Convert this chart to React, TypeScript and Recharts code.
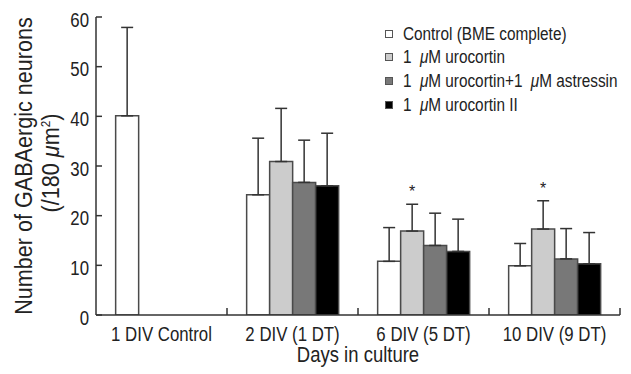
import { Bar, BarChart, ErrorBar, Label, LabelList, Legend, XAxis, YAxis } from "recharts"

const CATEGORIES = ["1 DIV Control", "2 DIV (1 DT)", "6 DIV (5 DT)", "10 DIV (9 DT)"]
const CONTROL = [40.1, 24.2, 10.8, 9.9]
const CONTROL_SD = [17.8, 11.4, 6.8, 4.5]
const UROCORTIN = [null, 30.9, 16.9, 17.3]
const UROCORTIN_SD = [null, 10.7, 5.4, 5.7]
const ASTRESSIN = [null, 26.7, 14.0, 11.3]
const ASTRESSIN_SD = [null, 8.5, 6.5, 6.1]
const UROCORTIN2 = [null, 26.0, 12.8, 10.3]
const UROCORTIN2_SD = [null, 10.6, 6.5, 6.3]
const SIGNIFICANT = [false, false, true, true]
const Y_TICKS = [0, 10, 20, 30, 40, 50, 60]

const SERIES = [
  { key: "control", name: "Control (BME complete)", fill: "#ffffff" },
  { key: "uro", name: "1 μM urocortin", fill: "#cccccc" },
  { key: "ast", name: "1 μM urocortin+1 μM astressin", fill: "#787878" },
  { key: "uro2", name: "1 μM urocortin II", fill: "#000000" },
]

const err = (v: number | null) => (v == null ? null : [0, v])

const data = CATEGORIES.map((name, i) => ({
  name,
  control: CONTROL[i],
  controlErr: err(CONTROL_SD[i]),
  uro: UROCORTIN[i],
  uroErr: err(UROCORTIN_SD[i]),
  ast: ASTRESSIN[i],
  astErr: err(ASTRESSIN_SD[i]),
  uro2: UROCORTIN2[i],
  uro2Err: err(UROCORTIN2_SD[i]),
  // ratio of SD to mean, only where the difference is significant
  sig: SIGNIFICANT[i] && UROCORTIN[i] ? (UROCORTIN_SD[i] as number) / (UROCORTIN[i] as number) : null,
}))

const W = 631
const H = 374
const TOP = 17
const RIGHT = 11
const YAXIS_W = 96
const XAXIS_H = 59
const PLOT_BOTTOM = H - XAXIS_H
const BAND_W = (W - YAXIS_W - RIGHT) / CATEGORIES.length
const AXIS = "#333"
const INK = "#222"
const FONT = "'Liberation Sans', Arial, sans-serif"
const NARROW = 0.82

function withMu(text: string) {
  return text.split("μ").map((part, i) =>
    i === 0 ? part : (
      <span key={i}>
        <i style={{ marginLeft: 5 }}>μ</i>
        {part}
      </span>
    )
  )
}

function YTick({ y, payload }: any) {
  return (
    <g>
      <line x1={YAXIS_W} x2={YAXIS_W + 6} y1={y} y2={y} stroke={AXIS} strokeWidth={1.5} />
      <g transform={`translate(${YAXIS_W - 7}, ${y + 9.5}) scale(${NARROW}, 1)`}>
        <text textAnchor="end" fontSize={20.5} fontFamily={FONT} fill={INK}>
          {payload.value}
        </text>
      </g>
    </g>
  )
}

function XTick({ x, payload }: any) {
  const edge = x + BAND_W / 2
  return (
    <g>
      <line x1={edge} x2={edge} y1={PLOT_BOTTOM} y2={PLOT_BOTTOM - 7} stroke={AXIS} strokeWidth={1.5} />
      <g transform={`translate(${x}, ${PLOT_BOTTOM + 26}) scale(${NARROW}, 1)`}>
        <text textAnchor="middle" fontSize={20.5} fontFamily={FONT} fill={INK}>
          {payload.value}
        </text>
      </g>
    </g>
  )
}

function YTitle({ viewBox }: any) {
  const cy = viewBox.y + viewBox.height / 2
  return (
    <g fontFamily={FONT} fill={INK} fontSize={24}>
      <text transform={`translate(32, ${cy}) rotate(-90) scale(0.9, 1)`} textAnchor="middle">
        Number of GABAergic neurons
      </text>
      <text transform={`translate(59, ${cy - 3}) rotate(-90) scale(0.9, 1)`} textAnchor="middle">
        (/180 <tspan fontStyle="italic">μ</tspan>m<tspan dy={-9} fontSize={13}>2</tspan>
        <tspan dy={9}>)</tspan>
      </text>
    </g>
  )
}

function XTitle({ viewBox }: any) {
  return (
    <g transform={`translate(${viewBox.x + viewBox.width / 2}, ${viewBox.y + 47}) scale(0.86, 1)`}>
      <text textAnchor="middle" fontSize={21.5} fontFamily={FONT} fill={INK}>
        Days in culture
      </text>
    </g>
  )
}

function Asterisk({ x, y, width, height, value }: any) {
  if (value == null) return null
  const top = y - value * height
  return (
    <text x={x + width / 2} y={top - 7} textAnchor="middle" fontSize={16} fontFamily={FONT} fill={INK}>
      *
    </text>
  )
}

function LegendBox() {
  return (
    <div style={{ fontFamily: FONT, fontSize: 18.7, color: INK }}>
      {SERIES.map((s) => (
        <div key={s.key} style={{ display: "flex", alignItems: "center", height: 23.6 }}>
          <span
            style={{
              width: 6,
              height: 6,
              background: s.fill,
              border: "1px solid #555",
              marginLeft: 8,
              marginRight: 10,
              flex: "none",
            }}
          />
          <span
            style={{
              whiteSpace: "nowrap",
              display: "inline-block",
              transform: `scaleX(${NARROW})`,
              transformOrigin: "left center",
            }}
          >
            {withMu(s.name)}
          </span>
        </div>
      ))}
    </div>
  )
}

export default function App() {
  return (
    <div style={{ position: "absolute", left: 0, top: 0, width: W, height: H, background: "#fff" }}>
      <BarChart
        width={W}
        height={H}
        data={data}
        margin={{ top: TOP, right: RIGHT, left: 0, bottom: 0 }}
        barCategoryGap="15%"
        barGap={0}
      >
        <XAxis
          dataKey="name"
          height={XAXIS_H}
          tickLine={false}
          axisLine={{ stroke: AXIS, strokeWidth: 1.5 }}
          tick={<XTick />}
          interval={0}
        >
          <Label content={<XTitle />} />
        </XAxis>
        <YAxis
          width={YAXIS_W}
          domain={[0, 60]}
          ticks={Y_TICKS}
          tickLine={false}
          axisLine={{ stroke: AXIS, strokeWidth: 1.5 }}
          tick={<YTick />}
          allowDataOverflow
        >
          <Label content={<YTitle />} />
        </YAxis>
        <Legend
          content={<LegendBox />}
          layout="vertical"
          align="center"
          verticalAlign="middle"
          wrapperStyle={{ top: 22, left: 377, width: 250 }}
        />
        {SERIES.map((s) => (
          <Bar
            key={s.key}
            dataKey={s.key}
            name={s.name}
            fill={s.fill}
            stroke="#4a4a4a"
            strokeWidth={1.5}
            isAnimationActive={false}
          >
            <ErrorBar dataKey={`${s.key}Err`} width={6} stroke="#333" strokeWidth={1.5} direction="y" />
            {s.key === "uro" && <LabelList dataKey="sig" content={<Asterisk />} />}
          </Bar>
        ))}
      </BarChart>
    </div>
  )
}
